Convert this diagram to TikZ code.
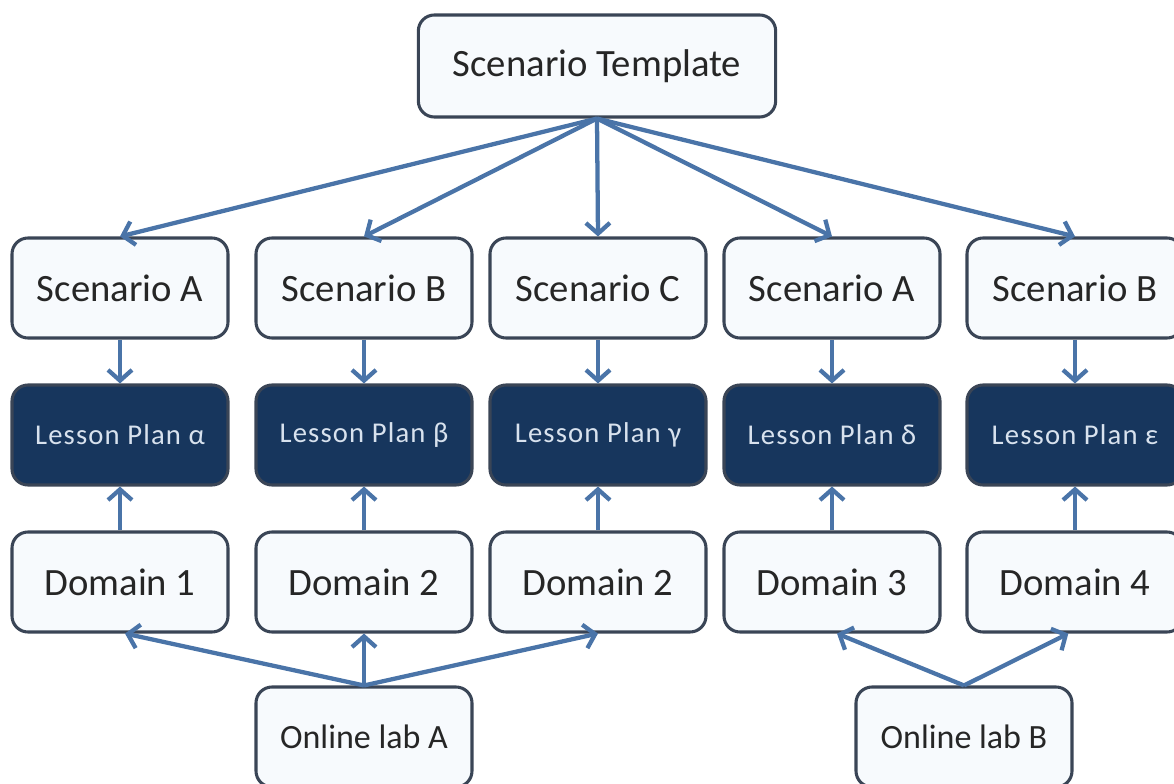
\documentclass[tikz,border=0pt]{standalone}
\usepackage{fontspec}
\setmainfont{Carlito}
\usetikzlibrary{arrows.meta}
\definecolor{boxedge}{HTML}{3A4556}
\definecolor{boxfill}{HTML}{F7FAFD}
\definecolor{navy}{HTML}{17365D}
\definecolor{link}{HTML}{4A74A8}
\definecolor{lighttext}{HTML}{D8E2EE}
\begin{document}
\begin{tikzpicture}[x=0.75pt,y=-0.75pt,
  box/.style={draw=boxedge, line width=2.3pt, fill=boxfill, rounded corners=12pt,
    minimum width=162pt, minimum height=75pt, inner sep=0pt, text=black!85,
    font=\fontsize{29}{34}\selectfont},
  plan/.style={box, fill=navy, text=lighttext,
    font=\fontsize{21.5}{26}\selectfont\addfontfeature{LetterSpace=4}},
  lab/.style={box, font=\fontsize{25.5}{30}\selectfont},
  link/.style={draw=link, line width=3.2pt, -{Straight Barb[length=8pt,width=18pt,line width=3.2pt]}}]
\useasboundingbox (0,0) rectangle (1174,784);

% top template
\node[box, minimum width=268pt, minimum height=76.5pt] (tpl) at (597,66) {Scenario Template};

% scenarios
\node[box] (s1) at (120,288) {Scenario A};
\node[box] (s2) at (364,288) {Scenario B};
\node[box] (s3) at (598,288) {Scenario C};
\node[box] (s4) at (832,288) {Scenario A};
\node[box] (s5) at (1075,288) {Scenario B};

% lesson plans
\node[plan] (p1) at (120,435) {Lesson Plan α};
\node[plan] (p2) at (364,435) {Lesson Plan β};
\node[plan] (p3) at (598,435) {Lesson Plan γ};
\node[plan] (p4) at (832,435) {Lesson Plan δ};
\node[plan] (p5) at (1075,435) {Lesson Plan ε};

% domains
\node[box] (d1) at (120,582) {Domain 1};
\node[box] (d2) at (364,582) {Domain 2};
\node[box] (d3) at (598,582) {Domain 2};
\node[box] (d4) at (832,582) {Domain 3};
\node[box] (d5) at (1075,582) {Domain 4};

% online labs
\node[lab] (la) at (364,737) {Online lab A};
\node[lab] (lb) at (964,737) {Online lab B};

% template to scenarios
\foreach \s in {s1,s2,s3,s4,s5}
  \draw[link] (tpl.south) -- (\s.north);

% scenarios and domains into lesson plans
\foreach \i in {1,...,5} {
  \draw[link] (s\i.south) -- (p\i.north);
  \draw[link] (d\i.north) -- (p\i.south);
}

% labs to domains
\draw[link] (la.north) -- ([xshift=3.75pt]d1.south);
\draw[link] (la.north) -- (d2.south);
\draw[link] (la.north) -- (d3.south);
\draw[link] (lb.north) -- ([xshift=3.75pt]d4.south);
\draw[link] (lb.north) -- ([xshift=-5pt]d5.south);
\end{tikzpicture}
\end{document}
